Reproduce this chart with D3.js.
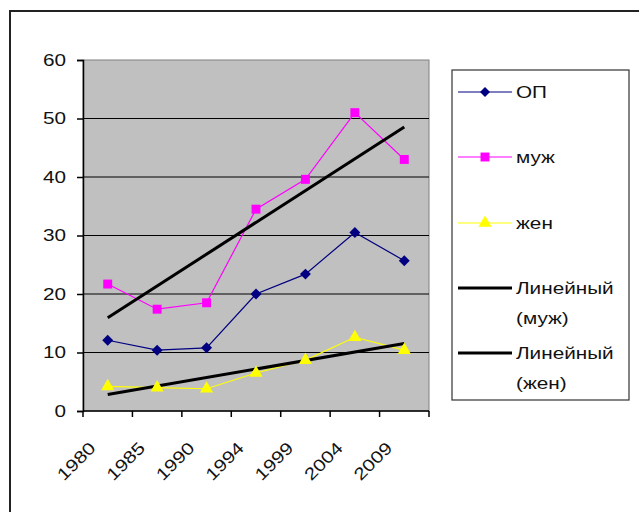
<!DOCTYPE html>
<html>
<head>
<meta charset="utf-8">
<script src="https://cdn.jsdelivr.net/npm/d3@7"></script>
<style>
  html, body { margin: 0; padding: 0; background: #fff; }
  svg { display: block; }
  text { font-family: "Liberation Sans", Arial, sans-serif; font-size: 17px; fill: #111; }
</style>
</head>
<body>
<svg id="chart" width="639" height="512"></svg>
<script>
// Category labels (years) and the three series
const years = ["1980", "1985", "1990", "1994", "1999", "2004", "2009"];
const op    = [12.1, 10.4, 10.8, 20.0, 23.4, 30.5, 25.7];
const muzh  = [21.7, 17.4, 18.5, 34.5, 39.6, 51.0, 43.0];
const zhen  = [4.2, 4.0, 3.8, 6.5, 8.7, 12.6, 10.4];
const yTicks = [0, 10, 20, 30, 40, 50, 60];

const svg = d3.select("#chart");
const plot = { left: 83, top: 60, right: 429, bottom: 411 };
const stretch = "scale(1.22,1)";

// outer chart frame (runs off the right and bottom edges)
svg.append("rect")
  .attr("x", 10).attr("y", 11).attr("width", 700).attr("height", 600)
  .attr("fill", "#fff").attr("stroke", "#222").attr("stroke-width", 2);

const x = d3.scaleBand().domain(years).range([plot.left, plot.right]).padding(0);
const y = d3.scaleLinear().domain([0, 60]).range([plot.bottom, plot.top]);
const cx = d => x(d) + x.bandwidth() / 2;

// plot area
svg.append("rect")
  .attr("x", plot.left).attr("y", plot.top)
  .attr("width", plot.right - plot.left).attr("height", plot.bottom - plot.top)
  .attr("fill", "#c0c0c0").attr("stroke", "#808080").attr("stroke-width", 1);

// horizontal gridlines
svg.append("g").selectAll("line").data(yTicks.filter(v => v > 0 && v < 60)).join("line")
  .attr("x1", plot.left).attr("x2", plot.right)
  .attr("y1", d => y(d)).attr("y2", d => y(d))
  .attr("stroke", "#000").attr("stroke-width", 1.2);

// y axis
const yAxis = svg.append("g").attr("transform", `translate(${plot.left},0)`)
  .call(d3.axisLeft(y).tickValues(yTicks).tickSize(6).tickPadding(11));
yAxis.select(".domain").attr("stroke", "#000").attr("stroke-width", 1.5);
yAxis.selectAll(".tick line").attr("stroke", "#000").attr("stroke-width", 1.5);
yAxis.selectAll(".tick text")
  .attr("font-family", "Liberation Sans, Arial, sans-serif").attr("font-size", 17)
  .attr("fill", "#111")
  .attr("transform", function () { return `translate(${+d3.select(this).attr("x")},0) ${stretch}`; })
  .attr("x", 0);

// x axis: ticks at category boundaries
const xAxis = svg.append("g");
xAxis.append("line")
  .attr("x1", plot.left).attr("x2", plot.right)
  .attr("y1", plot.bottom).attr("y2", plot.bottom)
  .attr("stroke", "#000").attr("stroke-width", 1.5);
const edges = years.map(d => x(d)).concat([x(years[years.length - 1]) + x.bandwidth()]);
xAxis.selectAll("line.tk").data(edges).join("line").attr("class", "tk")
  .attr("x1", d => d).attr("x2", d => d)
  .attr("y1", plot.bottom).attr("y2", plot.bottom + 6)
  .attr("stroke", "#000").attr("stroke-width", 1.5);
xAxis.selectAll("text").data(years).join("text")
  .attr("text-anchor", "end")
  .attr("transform", d => `translate(${cx(d) - 11},${plot.bottom + 38}) rotate(-45) ${stretch}`)
  .text(d => d);

// marker shapes: a square-cornered diamond, a square and a triangle
const diamond = {
  draw(ctx, size) {
    const r = Math.sqrt(size / 2);
    ctx.moveTo(0, -r); ctx.lineTo(r, 0); ctx.lineTo(0, r); ctx.lineTo(-r, 0); ctx.closePath();
  }
};

const line = d3.line().x((v, i) => cx(years[i])).y(v => y(v));
const series = [
  { name: "ОП",  values: op,   color: "#000080", symbol: diamond,          size: 60 },
  { name: "муж", values: muzh, color: "#ff00ff", symbol: d3.symbolSquare,   size: 80 },
  { name: "жен", values: zhen, color: "#ffff00", symbol: d3.symbolTriangle, size: 75 }
];

// least-squares trend over category index 1..n
function trend(vals) {
  const n = vals.length;
  const xs = vals.map((v, i) => i + 1);
  const mx = d3.mean(xs), my = d3.mean(vals);
  const sxy = d3.sum(xs, (xi, i) => (xi - mx) * (vals[i] - my));
  const sxx = d3.sum(xs, xi => (xi - mx) * (xi - mx));
  const b = sxy / sxx, a = my - b * mx;
  return [a + b * 1, a + b * n];
}

series.forEach(s => {
  svg.append("path").datum(s.values)
    .attr("d", line).attr("fill", "none")
    .attr("stroke", s.color).attr("stroke-width", 1.2);
});

// linear trendlines for муж and жен
[muzh, zhen].forEach(vals => {
  const [t0, t1] = trend(vals);
  svg.append("line")
    .attr("x1", cx(years[0])).attr("y1", y(t0))
    .attr("x2", cx(years[years.length - 1])).attr("y2", y(t1))
    .attr("stroke", "#000").attr("stroke-width", 3);
});

series.forEach(s => {
  svg.append("g").selectAll("path").data(s.values).join("path")
    .attr("d", d3.symbol().type(s.symbol).size(s.size))
    .attr("transform", (v, i) => `translate(${cx(years[i])},${y(v)})`)
    .attr("fill", s.color);
});

// legend
const lg = svg.append("g");
lg.append("rect").attr("x", 452).attr("y", 70).attr("width", 177).attr("height", 330)
  .attr("fill", "#fff").attr("stroke", "#333").attr("stroke-width", 1.2);

const legendItems = [
  { lines: ["ОП"], color: "#000080", symbol: diamond, size: 50, y: 92, w: 1.2 },
  { lines: ["муж"], color: "#ff00ff", symbol: d3.symbolSquare, size: 80, y: 157, w: 1.2 },
  { lines: ["жен"], color: "#ffff00", symbol: d3.symbolTriangle, size: 75, y: 223, w: 1.2 },
  { lines: ["Линейный", "(муж)"], color: "#000", symbol: null, y: 288, w: 3 },
  { lines: ["Линейный", "(жен)"], color: "#000", symbol: null, y: 353, w: 3 }
];
legendItems.forEach(it => {
  lg.append("line").attr("x1", 458).attr("x2", 512).attr("y1", it.y).attr("y2", it.y)
    .attr("stroke", it.color).attr("stroke-width", it.w);
  if (it.symbol) {
    lg.append("path").attr("d", d3.symbol().type(it.symbol).size(it.size)())
      .attr("transform", `translate(485,${it.y})`).attr("fill", it.color);
  }
  it.lines.forEach((t, k) => {
    lg.append("text")
      .attr("transform", `translate(516,${it.y + 6 + k * 30}) ${stretch}`)
      .text(t);
  });
});
</script>
</body>
</html>
